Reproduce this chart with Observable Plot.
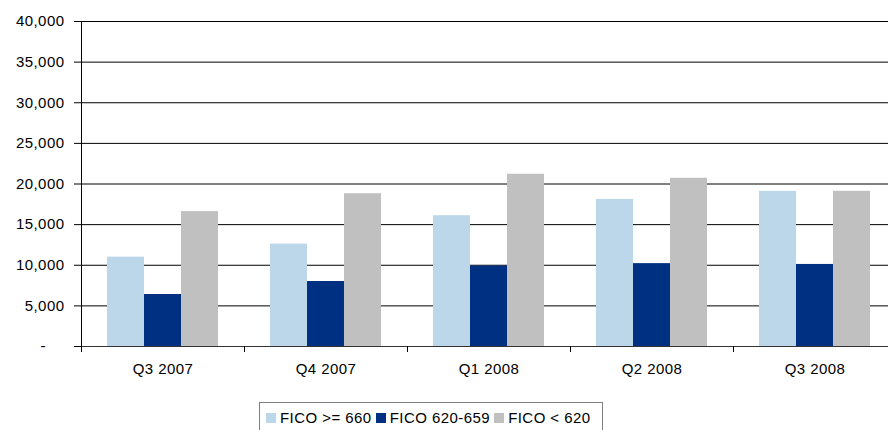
<!DOCTYPE html>
<html>
<head>
<meta charset="utf-8">
<script src="https://cdn.jsdelivr.net/npm/d3@7"></script>
<script src="https://cdn.jsdelivr.net/npm/@observablehq/plot@0.6"></script>
<style>
  html, body { margin: 0; padding: 0; overflow: hidden; background: #fff; }
  #wrap { position: relative; width: 888px; height: 430px; overflow: hidden; }
  #chart svg { max-width: none !important; }
  #legend {
    position: absolute; left: 259px; top: 402px; width: 344px; height: 34px;
    border: 1px solid #7f7f7f; box-sizing: border-box;
    font-family: "Liberation Sans", Arial, sans-serif; font-size: 15px; letter-spacing: 0.45px;
    color: #000; display: flex; align-items: flex-start; padding: 6px 0 0 6px;
  }
  #legend .item { display: flex; align-items: center; margin-right: 4px; white-space: nowrap; }
  #legend .sw { width: 10px; height: 10px; margin-right: 4px; display: inline-block; }
</style>
</head>
<body>
<div id="wrap">
  <div id="chart"></div>
  <div id="legend"></div>
</div>
<script>
const quarters = ["Q3 2007", "Q4 2007", "Q1 2008", "Q2 2008", "Q3 2008"];
const series = ["FICO >= 660", "FICO 620-659", "FICO < 620"];
const colors = ["#bdd7ea", "#003082", "#c0c0c0"];
const fico660 = [11000, 12600, 16100, 18100, 19100];
const fico620_659 = [6400, 8000, 9900, 10200, 10100];
const ficoBelow620 = [16600, 18800, 21200, 20700, 19100];
const yTicks = [0, 5000, 10000, 15000, 20000, 25000, 30000, 35000, 40000];

const seriesValues = [fico660, fico620_659, ficoBelow620];
const rows = [];
quarters.forEach((q, i) => {
  series.forEach((s, j) => rows.push({quarter: q, series: s, value: seriesValues[j][i]}));
});

const fmt = d => d === 0 ? "-\u00a0\u00a0\u00a0\u00a0" : d3.format(",")(d);

const H = 392, mTop = 21, mBottom = 46;

const chart = Plot.plot({
  width: 897,
  height: H,
  marginLeft: 79,
  marginRight: 0,
  marginTop: mTop,
  marginBottom: mBottom,
  style: {fontFamily: "Liberation Sans, Arial, sans-serif", fontSize: "15px", letterSpacing: "0.45px", color: "#000", background: "#fff", maxWidth: "none"},
  fx: {domain: quarters, padding: 0, axis: null},
  x: {domain: series, paddingInner: 0, paddingOuter: 0.7, axis: null},
  y: {domain: [0, 40000], axis: null},
  color: {domain: series, range: colors},
  marks: [
    Plot.ruleY(yTicks.filter(d => d > 0), {stroke: "#000", strokeWidth: 1}),
    Plot.barY(rows, {fx: "quarter", x: "series", y: "value", fill: "series"}),
    Plot.ruleY([0], {stroke: "#333", strokeWidth: 1}),
    Plot.frame({anchor: "left", stroke: "#000", insetTop: H - mTop - mBottom, insetBottom: -5}),
    Plot.frame({anchor: "left", stroke: "#000", facet: "super", insetBottom: -5}),
    Plot.axisY(yTicks, {tickSize: 7, tickPadding: 10, tickFormat: fmt, label: null, stroke: "#000"}),
    Plot.axisFx({anchor: "bottom", tickSize: 0, tickPadding: 17, label: null})
  ]
});
chart.style.maxWidth = "none";
document.getElementById("chart").appendChild(chart);

const legend = document.getElementById("legend");
series.forEach((s, j) => {
  const item = document.createElement("span");
  item.className = "item";
  const sw = document.createElement("span");
  sw.className = "sw";
  sw.style.background = colors[j];
  item.appendChild(sw);
  item.appendChild(document.createTextNode(s));
  legend.appendChild(item);
});
</script>
</body>
</html>
